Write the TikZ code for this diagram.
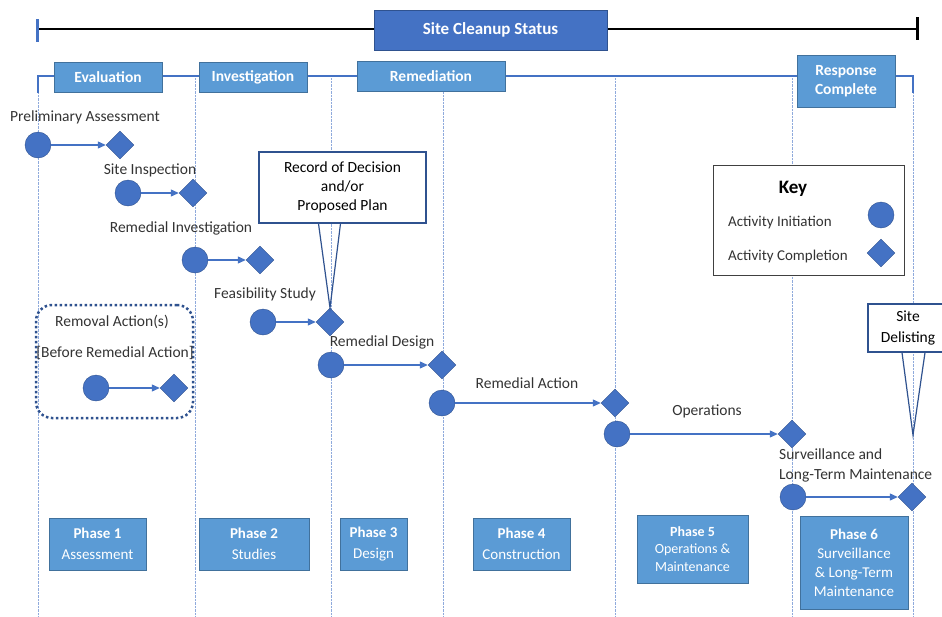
\documentclass[tikz,border=0pt]{standalone}
\usepackage{fontspec}
\setmainfont{Carlito}
\usetikzlibrary{arrows.meta,shapes.geometric}
\definecolor{actblue}{HTML}{4472C4}
\definecolor{actedge}{HTML}{2F528F}
\definecolor{headblue}{HTML}{5B9BD5}
\definecolor{headedge}{HTML}{41719C}
\definecolor{gridblue}{HTML}{8FAADC}

\begin{document}
\begin{tikzpicture}[x=1pt,y=-1pt]
\useasboundingbox (0,0) rectangle (942,616);
\foreach \x in {38,195,331,443,615,792,913}
    \draw[gridblue,densely dotted] (\x,78) -- (\x,616);
\draw[actblue,line width=2pt] (38,93) -- (38,76) -- (913,76) -- (913,93);
\coordinate (tl) at (37,29);
\coordinate (tr) at (917,29);
\draw[black,line width=2pt] (tl) -- (tr);
\draw[actblue,line width=3pt] (37,19) -- (37,42);
\draw[black,line width=3pt] (917,17) -- (917,40);
\begin{scope}[every node/.style={rectangle,fill=headblue,draw=headedge,text=white,inner sep=0pt,
              align=center,font=\fontsize{15.5}{19}\selectfont\bfseries}]
    \node[fill=actblue,draw=actedge,minimum width=233pt,minimum height=40pt,
          font=\fontsize{17}{20}\selectfont\bfseries] (status) at (490.5,30) {Site Cleanup Status};
    \node[minimum width=108pt,minimum height=30pt] (eval) at (108,77) {Evaluation};
    \node[minimum width=108pt,minimum height=30pt] (invest) at (253,77) {Investigation};
    \node[minimum width=148pt,minimum height=30pt] (remed) at (431,76) {Remediation};
    \node[minimum width=98pt,minimum height=52pt] (complete) at (846,81) {Response\\Complete};
\end{scope}
\begin{scope}[every node/.style={rectangle,fill=headblue,draw=headedge,text=white,inner sep=0pt,
              align=center,font=\fontsize{15}{21}\selectfont}]
    \node[minimum width=97pt,minimum height=52pt] (phase1) at (97.5,544) {\textbf{Phase 1}\\Assessment};
    \node[minimum width=110pt,minimum height=52pt] (phase2) at (254,544) {\textbf{Phase 2}\\Studies};
    \node[minimum width=67pt,minimum height=52pt] (phase3) at (373.5,544) {\textbf{Phase 3}\\Design};
    \node[minimum width=97pt,minimum height=52pt] (phase4) at (521.5,544) {\textbf{Phase 4}\\Construction};
    \node[minimum width=111pt,minimum height=68pt,font=\fontsize{14}{17.5}\selectfont] (phase5) at (692.5,549)
        {\textbf{Phase 5}\\Operations \&\\Maintenance};
    \node[minimum width=108pt,minimum height=93pt,font=\fontsize{15}{19}\selectfont] (phase6) at (854,562.5)
        {\textbf{Phase 6}\\Surveillance\\\& Long-Term\\Maintenance};
\end{scope}
\node[draw=actedge,line width=2.5pt,dash pattern=on 2.5pt off 2.5pt,rounded corners=16pt,
      minimum width=157pt,minimum height=113pt] (removal) at (114.5,361.5) {};
\begin{scope}[every node/.style={rectangle,draw=actedge,line width=1.2pt,fill=white,inner sep=0pt,
              align=center,font=\fontsize{15.5}{19}\selectfont}]
    \node[minimum width=167pt,minimum height=71pt] (rod) at (342.5,187.5)
        {Record of Decision\\and/or\\Proposed Plan};
    \node[minimum width=80pt,minimum height=48pt,font=\fontsize{15.5}{21}\selectfont] (delist) at (908,328)
        {Site\\Delisting};
    \node[draw=black!75,line width=0.8pt,minimum width=191pt,minimum height=110pt] (key) at (808.5,220) {};
\end{scope}
\begin{scope}[every node/.style={text=black!80,inner sep=0pt,font=\fontsize{15.5}{19}\selectfont}]
    \node (pa) at (85,117) {Preliminary Assessment};
    \node (si) at (150,170) {Site Inspection};
    \node (ri) at (181,228) {Remedial Investigation};
    \node (fs) at (265,294) {Feasibility Study};
    \node (rd) at (382,342) {Remedial Design};
    \node (ra) at (527,383) {Remedial Action};
    \node (ops) at (707,411) {Operations};
    \node[anchor=west,align=left,font=\fontsize{15.5}{20}\selectfont] (slt) at (779,465)
        {Surveillance and\\Long-Term Maintenance};
    \node (ra1) at (112,322) {Removal Action(s)};
    \node (ra2) at (115,353) {[Before Remedial Action]};
    \node[text=black,font=\fontsize{19}{22}\selectfont\bfseries] (keytitle) at (793,189) {Key};
    \node[anchor=west,font=\fontsize{15}{18}\selectfont] (keyinit) at (728,223) {Activity Initiation};
    \node[anchor=west,font=\fontsize{15}{18}\selectfont] (keydone) at (728,256) {Activity Completion};
\end{scope}
\begin{scope}[every node/.style={circle,fill=actblue,draw=actedge,minimum size=26pt,inner sep=0pt}]
    \node (c0) at (96,388) {};
    \node (c1) at (38,145) {};
    \node (c2) at (128,193) {};
    \node (c3) at (195,260) {};
    \node (c4) at (263,322) {};
    \node (c5) at (331,365) {};
    \node (c6) at (442,403) {};
    \node (c7) at (617,434) {};
    \node (c8) at (793,497) {};
    \node (kc) at (881,215) {};
\end{scope}
\begin{scope}[every node/.style={diamond,fill=actblue,draw=actedge,minimum size=28pt,inner sep=0pt}]
    \node (d0) at (174,388) {};
    \node (d1) at (120,145) {};
    \node (d2) at (193,193) {};
    \node (d3) at (260,260) {};
    \node (d4) at (330,322) {};
    \node (d5) at (442,365) {};
    \node (d6) at (615,403) {};
    \node (d7) at (792,434) {};
    \node (d8) at (912,497) {};
    \node (kd) at (881,253) {};
\end{scope}
\begin{scope}[every edge/.style={draw=actblue,line width=1.1pt,-{Triangle[length=8pt,width=7pt]}}]
    \path (c0) edge (d0);
    \path (c1) edge (d1);
    \path (c2) edge (d2);
    \path (c3) edge (d3);
    \path (c4) edge (d4);
    \path (c5) edge (d5);
    \path (c6) edge (d6);
    \path (c7) edge (d7);
    \path (c8) edge (d8);
\end{scope}
\coordinate (dtip) at (913,435);
\draw[actedge,line width=1.2pt] ([xshift=-24pt]rod.south) -- (d4.north) -- ([xshift=-2pt]rod.south);
\draw[actedge,line width=1.2pt] ([xshift=-6pt]delist.south) -- (dtip) -- ([xshift=17pt]delist.south);
\end{tikzpicture}
\end{document}
